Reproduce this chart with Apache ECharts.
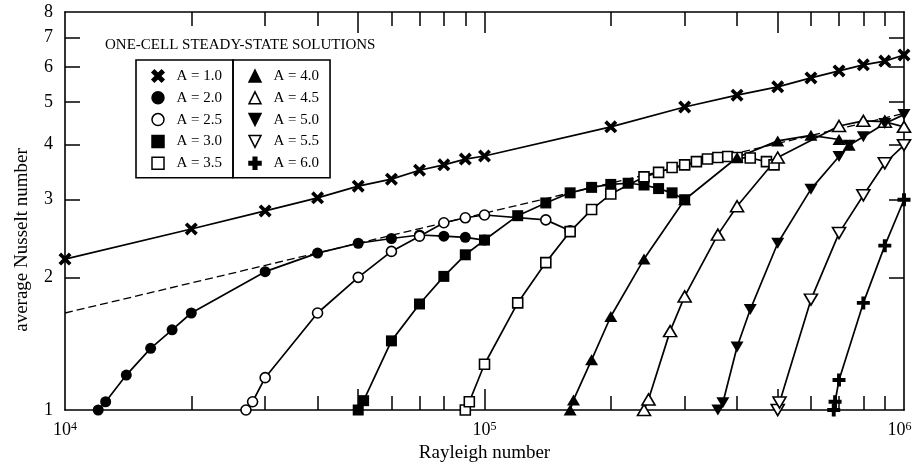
<!DOCTYPE html>
<html>
<head>
<meta charset="utf-8">
<script src="https://cdn.jsdelivr.net/npm/echarts@6/dist/echarts.min.js"></script>
<style>
  html, body { margin: 0; padding: 0; background: #fff; }
  #chart { width: 915px; height: 464px; }
</style>
</head>
<body>
<div id="chart"></div>
<script>
// Rayleigh number (x) and average Nusselt number (y) for each aspect ratio A
const ra10 = [1e4, 2e4, 3e4, 4e4, 5e4, 6e4, 7e4, 8e4, 9e4, 1e5, 2e5, 3e5, 4e5, 5e5, 6e5, 7e5, 8e5, 9e5, 1e6]
const nu10 = [2.20, 2.575, 2.83, 3.03, 3.22, 3.34, 3.50, 3.60, 3.71, 3.77, 4.39, 4.87, 5.18, 5.41, 5.67, 5.88, 6.07, 6.19, 6.39]

const ra20 = [1.2e4, 1.25e4, 1.4e4, 1.6e4, 1.8e4, 2e4, 3e4, 4e4, 5e4, 6e4, 7e4, 8e4, 9e4, 1e5]
const nu20 = [1.0, 1.044, 1.20, 1.38, 1.52, 1.66, 2.06, 2.27, 2.39, 2.45, 2.495, 2.48, 2.465, 2.43]

const ra25 = [2.7e4, 2.8e4, 3e4, 4e4, 5e4, 6e4, 7e4, 8e4, 9e4, 1e5, 1.4e5, 1.6e5]
const nu25 = [1.0, 1.044, 1.184, 1.66, 2.0, 2.29, 2.48, 2.66, 2.73, 2.77, 2.70, 2.55]

const ra30 = [5e4, 5.15e4, 6e4, 7e4, 8e4, 9e4, 1e5, 1.2e5, 1.4e5, 1.6e5, 1.8e5, 2e5, 2.2e5, 2.4e5, 2.6e5, 2.8e5, 3e5]
const nu30 = [1.0, 1.05, 1.435, 1.74, 2.01, 2.25, 2.43, 2.76, 2.95, 3.11, 3.20, 3.25, 3.27, 3.24, 3.18, 3.11, 3.00]

const ra35 = [9e4, 9.2e4, 1e5, 1.2e5, 1.4e5, 1.6e5, 1.8e5, 2e5, 2.4e5, 2.6e5, 2.8e5, 3e5, 3.2e5, 3.4e5, 3.6e5, 3.8e5, 4e5, 4.3e5, 4.7e5, 4.9e5]
const nu35 = [1.0, 1.044, 1.27, 1.75, 2.16, 2.54, 2.85, 3.09, 3.38, 3.46, 3.55, 3.60, 3.66, 3.71, 3.74, 3.76, 3.74, 3.73, 3.66, 3.60]

const ra40 = [1.6e5, 1.63e5, 1.8e5, 2e5, 2.4e5, 3e5, 4e5, 5e5, 6e5, 7e5, 7.4e5]
const nu40 = [1.0, 1.054, 1.30, 1.63, 2.20, 3.00, 3.74, 4.08, 4.20, 4.11, 3.99]

const ra45 = [2.4e5, 2.46e5, 2.77e5, 3e5, 3.6e5, 4e5, 5e5, 7e5, 8e5, 9e5, 1e6]
const nu45 = [1.0, 1.057, 1.51, 1.81, 2.50, 2.90, 3.74, 4.41, 4.53, 4.51, 4.39]

const ra50 = [3.6e5, 3.7e5, 4e5, 4.3e5, 5e5, 6e5, 7e5, 7.4e5, 8e5, 9e5, 1e6]
const nu50 = [1.0, 1.039, 1.39, 1.69, 2.39, 3.17, 3.76, 3.99, 4.17, 4.47, 4.68]

const ra55 = [5e5, 5.05e5, 6e5, 7e5, 8e5, 9e5, 1e6]
const nu55 = [1.0, 1.04, 1.78, 2.52, 3.07, 3.63, 3.99]

const ra60 = [6.8e5, 6.85e5, 7e5, 8e5, 9e5, 1e6]
const nu60 = [1.0, 1.044, 1.17, 1.75, 2.36, 3.0]

// dashed reference line
const raFit = [1e4, 1e6]
const nuFit = [1.66, 4.71]

// axis ticks and labels
const xLabels = [1e4, 1e5, 1e6]
const xLongTicks = [5e4, 1e5, 5e5]
const xShortTicks = [2e4, 3e4, 4e4, 6e4, 7e4, 8e4, 9e4, 2e5, 3e5, 4e5, 6e5, 7e5, 8e5, 9e5]
const yLabels = [1, 2, 3, 4, 5, 6, 7, 8]
const yTicks = [2, 3, 4, 5, 6, 7]

const font = 'Liberation Serif'
const pts = (xs, ys) => xs.map((x, i) => [x, ys[i]])

const CROSS = 'path://M2,0 L5,3 L8,0 L10,2 L7,5 L10,8 L8,10 L5,7 L2,10 L0,8 L3,5 L0,2 Z'
const PLUS = 'path://M3.5,0 H6.5 V3.5 H10 V6.5 H6.5 V10 H3.5 V6.5 H0 V3.5 H3.5 Z'
const UP = 'path://M5,0 L10,9 L0,9 Z'
const DOWN = 'path://M0,0 L10,0 L5,9 Z'

const filled = { color: '#000', borderColor: '#000', borderWidth: 0 }
const open = { color: '#fff', borderColor: '#000', borderWidth: 1.6 }

const mk = (name, xs, ys, symbol, size, style) => ({
  name: name,
  type: 'line',
  data: pts(xs, ys),
  symbol: symbol,
  symbolSize: size,
  clip: false,
  lineStyle: { color: '#000', width: 1.7 },
  itemStyle: style,
  emphasis: { disabled: true }
})

const chart = echarts.init(document.getElementById('chart'))

const xBase = {
  type: 'log',
  logBase: 10,
  min: 1e4,
  max: 1e6,
  splitLine: { show: false },
  minorTick: { show: false }
}
const yBase = {
  type: 'log',
  logBase: 10,
  min: 1,
  max: 8,
  splitLine: { show: false }
}

const legendBase = {
  orient: 'vertical',
  top: 60,
  padding: [8.5, 11, 7, 8.5],
  itemWidth: 27,
  itemHeight: 15,
  itemGap: 6.8,
  borderColor: '#000',
  borderWidth: 1.6,
  selectedMode: false,
  lineStyle: { width: 0, opacity: 0 },
  itemStyle: { borderWidth: 1.5 },
  textStyle: { fontFamily: font, fontSize: 15, color: '#000', width: 50 }
}

const gridBox = { left: 65, right: 11, top: 12, bottom: 54, containLabel: false, outerBoundsMode: 'none' }

chart.setOption({
  animation: false,
  backgroundColor: '#fff',
  title: {
    text: 'ONE-CELL STEADY-STATE SOLUTIONS',
    left: 105,
    top: 38,
    padding: 0,
    textStyle: { fontFamily: font, fontSize: 15, fontWeight: 'normal', color: '#000' }
  },
  legend: [
    Object.assign({}, legendBase, {
      data: ['A = 1.0', 'A = 2.0', 'A = 2.5', 'A = 3.0', 'A = 3.5'],
      left: 136
    }),
    Object.assign({}, legendBase, {
      data: ['A = 4.0', 'A = 4.5', 'A = 5.0', 'A = 5.5', 'A = 6.0'],
      left: 233
    })
  ],
  grid: [
    Object.assign({}, gridBox),
    Object.assign({}, gridBox)
  ],
  xAxis: [
    Object.assign({}, xBase, {
      gridIndex: 0,
      position: 'bottom',
      name: 'Rayleigh number',
      nameLocation: 'middle',
      nameGap: 34,
      nameTextStyle: { fontFamily: font, fontSize: 19, color: '#000' },
      axisLine: { lineStyle: { color: '#000', width: 1.6 } },
      axisTick: { inside: true, length: 21, customValues: xLongTicks, lineStyle: { color: '#000', width: 1.5 } },
      axisLabel: {
        customValues: xLabels,
        margin: 11,
        formatter: v => {
          const e = Math.round(Math.log10(v))
          return '{b|10}{s|' + e + '}' + (e === 6 ? '{p|}' : '')
        },
        rich: {
          b: { fontFamily: font, fontSize: 18, color: '#000', lineHeight: 18 },
          s: { fontFamily: font, fontSize: 12, color: '#000', lineHeight: 12, verticalAlign: 'top' },
          p: { width: 9 }
        }
      }
    }),
    Object.assign({}, xBase, {
      gridIndex: 0,
      position: 'top',
      axisLine: { lineStyle: { color: '#000', width: 1.6 } },
      axisTick: { inside: true, length: 21, customValues: xLongTicks, lineStyle: { color: '#000', width: 1.5 } },
      axisLabel: { show: false }
    }),
    Object.assign({}, xBase, {
      gridIndex: 1,
      position: 'bottom',
      axisLine: { show: false },
      axisTick: { inside: true, length: 14, customValues: xShortTicks, lineStyle: { color: '#000', width: 1.5 } },
      axisLabel: { show: false }
    }),
    Object.assign({}, xBase, {
      gridIndex: 1,
      position: 'top',
      axisLine: { show: false },
      axisTick: { inside: true, length: 14, customValues: xShortTicks, lineStyle: { color: '#000', width: 1.5 } },
      axisLabel: { show: false }
    })
  ],
  yAxis: [
    Object.assign({}, yBase, {
      gridIndex: 0,
      position: 'left',
      name: 'average Nusselt number',
      nameLocation: 'middle',
      nameGap: 33,
      nameTextStyle: { fontFamily: font, fontSize: 19, color: '#000', padding: [0, 58, 0, 0] },
      axisLine: { lineStyle: { color: '#000', width: 1.6 } },
      axisTick: { inside: true, length: 15, customValues: yTicks, lineStyle: { color: '#000', width: 1.5 } },
      axisLabel: { customValues: yLabels, margin: 12, fontFamily: font, fontSize: 18, color: '#000' }
    }),
    Object.assign({}, yBase, {
      gridIndex: 0,
      position: 'right',
      axisLine: { lineStyle: { color: '#000', width: 1.6 } },
      axisTick: { inside: true, length: 15, customValues: yTicks, lineStyle: { color: '#000', width: 1.5 } },
      axisLabel: { show: false }
    }),
    Object.assign({}, yBase, { gridIndex: 1, show: false })
  ],
  series: [
    {
      name: 'fit',
      type: 'line',
      data: pts(raFit, nuFit),
      symbol: 'none',
      clip: false,
      lineStyle: { color: '#000', width: 1.3, type: [8, 4] },
      emphasis: { disabled: true }
    },
    mk('A = 1.0', ra10, nu10, CROSS, 13, filled),
    mk('A = 2.0', ra20, nu20, 'circle', 11, filled),
    mk('A = 2.5', ra25, nu25, 'circle', 10, open),
    mk('A = 3.0', ra30, nu30, 'rect', 11, filled),
    mk('A = 3.5', ra35, nu35, 'rect', 10, open),
    mk('A = 4.0', ra40, nu40, UP, [13, 11], filled),
    mk('A = 4.5', ra45, nu45, UP, [13, 11], open),
    mk('A = 5.0', ra50, nu50, DOWN, [13, 11], filled),
    mk('A = 5.5', ra55, nu55, DOWN, [13, 11], open),
    mk('A = 6.0', ra60, nu60, PLUS, 13, filled)
  ]
})
</script>
</body>
</html>
